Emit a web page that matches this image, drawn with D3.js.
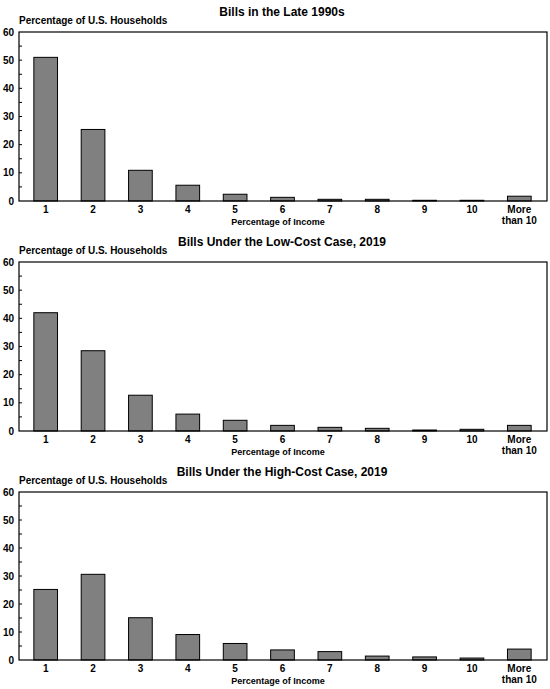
<!DOCTYPE html>
<html><head><meta charset="utf-8">
<script src="https://cdn.jsdelivr.net/npm/d3@7"></script>
<style>body{margin:0;background:#fff}svg{display:block}text{font-family:"Liberation Sans",Arial,sans-serif;font-weight:bold;fill:#000}</style>
</head><body>
<script>
const categories = ["1","2","3","4","5","6","7","8","9","10","More than 10"];
const titles = ["Bills in the Late 1990s","Bills Under the Low-Cost Case, 2019","Bills Under the High-Cost Case, 2019"];
const late1990s = [51, 25.4, 10.9, 5.6, 2.4, 1.3, 0.6, 0.6, 0.25, 0.25, 1.7];
const lowCost2019 = [42, 28.5, 12.7, 6.0, 3.8, 2.0, 1.3, 0.95, 0.35, 0.6, 2.0];
const highCost2019 = [25.2, 30.6, 15.1, 9.1, 5.9, 3.6, 3.0, 1.4, 1.1, 0.7, 3.9];
const yTicks = [0, 10, 20, 30, 40, 50, 60];
const yLabel = "Percentage of U.S. Households";
const xLabel = "Percentage of Income";
const series = [late1990s, lowCost2019, highCost2019];

const W = 550, H = 689;
const svg = d3.select("body").append("svg").attr("width", W).attr("height", H);
const left = 19, right = 547;
const tops = [32, 262, 492];
const heights = [169, 169, 168];

const x = d3.scaleBand().domain(categories).range([22, 543]).paddingInner(0.5).paddingOuter(0.25);

series.forEach((vals, i) => {
  const top = tops[i], h = heights[i];
  const g = svg.append("g");
  const y = d3.scaleLinear().domain([0, 60]).range([top + h, top]);
  g.append("text").attr("x", 282).attr("y", top - 16.5).attr("text-anchor", "middle")
    .style("font-size", "12px").text(titles[i]);
  g.append("text").attr("x", 19).attr("y", top - 8).style("font-size", "10px").text(yLabel);
  g.append("g").selectAll("line").data(d3.range(5, 60, 5)).join("line")
    .attr("x1", left).attr("x2", left + 3).attr("y1", d => y(d)).attr("y2", d => y(d))
    .attr("stroke", "#000").attr("stroke-width", 1);
  g.append("g").selectAll("text").data(yTicks).join("text")
    .attr("x", 14).attr("y", d => y(d) + 3.6).attr("text-anchor", "end")
    .style("font-size", "10px").text(d => d);
  g.append("g").selectAll("rect").data(vals).join("rect")
    .attr("x", (d, j) => x(categories[j]))
    .attr("width", x.bandwidth())
    .attr("y", d => y(d))
    .attr("height", d => y(0) - y(d))
    .attr("fill", "#808080").attr("stroke", "#000").attr("stroke-width", 1);
  g.append("rect").attr("x", left).attr("y", top).attr("width", right - left).attr("height", h)
    .attr("fill", "none").attr("stroke", "#000").attr("stroke-width", 1.2);
  const lab = g.append("g").selectAll("text").data(categories).join("text")
    .attr("x", d => x(d) + x.bandwidth() / 2).attr("y", top + h + 12)
    .attr("text-anchor", "middle").style("font-size", "10px");
  lab.each(function(d) {
    const t = d3.select(this);
    if (d === "More than 10") {
      t.append("tspan").attr("x", x(d) + x.bandwidth() / 2).attr("dy", 0).text("More");
      t.append("tspan").attr("x", x(d) + x.bandwidth() / 2).attr("dy", 11).text("than 10");
    } else t.text(d);
  });
  g.append("text").attr("x", 278).attr("y", top + h + 23.5).attr("text-anchor", "middle")
    .style("font-size", "9px").text(xLabel);
});
</script>
</body></html>
